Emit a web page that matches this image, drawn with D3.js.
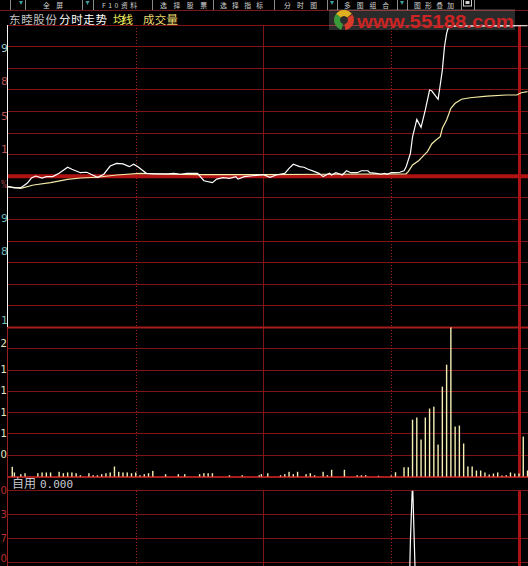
<!DOCTYPE html>
<html>
<head>
<meta charset="utf-8">
<script src="https://cdn.jsdelivr.net/npm/d3@7/dist/d3.min.js"></script>
<style>
body { margin: 0; background: #000; }
svg { display: block; }
</style>
</head>
<body>
<script>
// minute index (0 = 9:30, 240 = 15:00, past 240 = next session) and % change
var priceMin = [0,3,6,9,11,13,16,18,21,24,28,30,34,37,38,42,45,48,51,54,57,59,61,65,68,75,78,81,84,89,
  92,96,98,101,104,107,108,111,115,120,123,126,130,132,134,137,139,141,144,146,148,151,152,154,157,159,161,164,166,169,
  170,173,175,177,178,180,182,184,186,187,189,190,192,194,196,198,199,202,203,204,205,206,207,240,244];
var pricePct = [-0.69,-0.78,-0.76,-0.47,-0.12,0.01,-0.12,-0.03,-0.03,0.19,0.59,0.46,0.23,0.26,0.19,-0.07,0.13,0.67,0.85,0.81,
  0.63,0.79,0.63,0.19,0.15,0.15,0.19,0.13,0.19,0.19,-0.30,-0.43,-0.19,-0.10,-0.14,-0.03,-0.19,-0.03,0.03,0.10,
  -0.07,0.08,0.19,0.52,0.79,0.63,0.59,0.46,0.30,0.19,-0.03,0.19,0.08,0.23,0.08,0.36,0.23,0.23,0.36,0.36,
  0.23,0.19,0.13,0.19,0.13,0.23,0.23,0.26,0.36,0.63,1.51,2.61,3.76,3.23,4.38,5.70,5.65,5.09,6.03,7.02,
  8.56,9.45,9.93,9.95,9.95];

var avgMin = [0,6,12,20,28,34,42,51,62,75,90,106,120,150,187,188,190,193,194,197,199,201,203,204,206,208,210,213,217,225,234,239,241,244];
var avgPct = [-0.69,-0.80,-0.58,-0.43,-0.21,-0.12,-0.07,0.08,0.19,0.13,0.10,0.10,0.10,0.13,0.16,0.30,0.74,1.04,1.20,1.63,
  2.13,2.39,2.61,3.17,3.72,4.49,4.82,5.09,5.19,5.30,5.37,5.37,5.52,5.59];

var volMin = [2,3,6,8,14,16,18,20,24,26,28,30,32,34,38,40,42,44,46,48,50,52,54,56,58,60,62,64,66,68,
  74,80,83,90,92,94,96,104,110,118,119,122,128,130,132,134,136,140,142,144,148,150,152,158,164,166,168,174,180,182,
  186,188,190,192,194,196,198,200,202,204,206,208,210,212,214,216,218,220,222,224,226,228,230,232,234,236,238,240,242,244];
var volVal = [455,190,110,155,155,190,190,190,220,155,190,190,155,60,155,60,60,110,155,190,470,220,190,190,155,190,60,110,155,265,
  110,110,110,110,155,155,155,60,60,60,110,155,60,110,220,110,220,110,155,60,220,60,315,315,60,60,60,35,50,200,
  435,435,2670,2770,1735,2770,3190,3280,1500,4220,5250,7000,2345,2390,1550,470,470,280,280,190,95,140,190,50,60,190,140,140,1875,280];

var indMin = [188,189,190,191,192];
var indVal = [-3,0.9,3.4,0.3,-3];

var priceLabels = ["9","8","5","1","%","9","8","1"];
var priceLabelPct = [8.4,6.2,3.9,1.7,-0.6,-2.8,-5.0,-9.6];
var volLabels = ["2","1","1","1","1","0"];
var volLabelVal = [6200,5000,4000,3000,2000,1000];
var indLabels = ["0","3","7","0"];
var indLabelVal = [3,2,1,0.15];

var toolLabels = ["全屏","F10资料","选择股票","选择指标","分时图","多图组合","图形叠加"];
var titleParts = ["东睦股份","分时走势","均线","成交量"];

var width = 528, height = 566;
var left = 8, right = 528;
var cjk = "'Noto Sans CJK SC', 'Noto Sans', sans-serif";

var svg = d3.select("body").append("svg")
    .attr("width", width)
    .attr("height", height)
    .style("background", "#000");

var x = d3.scaleLinear().domain([0, 240]).range([8, 519]);
var yPrice = d3.scaleLinear().domain([-10, 10]).range([327.4, 25]);
var yVol = d3.scaleLinear().domain([0, 7000]).range([476.5, 327.4]);
var yInd = d3.scaleLinear().domain([0, 3]).range([562.7, 490.7]);

var gridColor = "#801414";

// horizontal grid
var grid = svg.append("g").attr("shape-rendering", "crispEdges");
grid.selectAll(".gp").data(d3.range(15).map(function (i) { return -10 + i * 20 / 14; }))
  .enter().append("line")
    .attr("x1", left).attr("x2", right)
    .attr("y1", function (d) { return yPrice(d); })
    .attr("y2", function (d) { return yPrice(d); })
    .attr("stroke", gridColor);
grid.selectAll(".gv").data(d3.range(1000, 7000, 1000))
  .enter().append("line")
    .attr("x1", left).attr("x2", right)
    .attr("y1", function (d) { return yVol(d); })
    .attr("y2", function (d) { return yVol(d); })
    .attr("stroke", gridColor);
grid.selectAll(".gi").data([0, 1, 2, 3])
  .enter().append("line")
    .attr("x1", left).attr("x2", right)
    .attr("y1", function (d) { return yInd(d); })
    .attr("y2", function (d) { return yInd(d); })
    .attr("stroke", gridColor);

// vertical grid, per panel
var panels = [[25, 327.4], [327.4, 476.5], [490.7, 566]];
panels.forEach(function (p) {
  [60, 180].forEach(function (m) {
    grid.append("line")
      .attr("x1", Math.round(x(m)) + 0.5).attr("x2", Math.round(x(m)) + 0.5)
      .attr("y1", p[0]).attr("y2", p[1])
      .attr("stroke", "#a02020")
      .attr("stroke-dasharray", "1,2");
  });
  grid.append("line")
    .attr("x1", x(120)).attr("x2", x(120))
    .attr("y1", p[0]).attr("y2", p[1])
    .attr("stroke", gridColor);
  grid.append("line")
    .attr("x1", x(240)).attr("x2", x(240))
    .attr("y1", p[0]).attr("y2", p[1])
    .attr("stroke", "#a81414")
    .attr("stroke-width", 3);
});

// previous close line and panel separators
svg.append("line")
    .attr("x1", left).attr("x2", right)
    .attr("y1", yPrice(0)).attr("y2", yPrice(0))
    .attr("stroke", "#b01212").attr("stroke-width", 4);
[yPrice(-10), yVol(0) + 0.5].forEach(function (yy) {
  svg.append("line")
    .attr("x1", left).attr("x2", right)
    .attr("y1", yy).attr("y2", yy)
    .attr("stroke", "#a81c1c").attr("stroke-width", 2);
});

// volume bars
svg.append("g").selectAll("rect")
    .data(volMin.map(function (m, i) { return {m: m, v: volVal[i]}; }))
  .enter().append("rect")
    .attr("x", function (d) { return x(d.m) - 0.7; })
    .attr("width", 1.4)
    .attr("y", function (d) { return yVol(d.v); })
    .attr("height", function (d) { return yVol(0) - yVol(d.v); })
    .attr("fill", "#f4eeb4");

// price and average lines
var line = d3.line()
    .x(function (d) { return x(d[0]); })
    .y(function (d) { return yPrice(d[1]); });

svg.append("path")
    .datum(avgMin.map(function (m, i) { return [m, avgPct[i]]; }))
    .attr("d", line)
    .attr("fill", "none")
    .attr("stroke", "#f2eaa8")
    .attr("stroke-width", 1.2);

svg.append("path")
    .datum(priceMin.map(function (m, i) { return [m, pricePct[i]]; }))
    .attr("d", line)
    .attr("fill", "none")
    .attr("stroke", "#ffffff")
    .attr("stroke-width", 1.2);

// indicator
svg.append("clipPath").attr("id", "indClip")
  .append("rect").attr("x", left).attr("y", 490.7).attr("width", right - left).attr("height", 80);
svg.append("path")
    .datum(indMin.map(function (m, i) { return [m, indVal[i]]; }))
    .attr("clip-path", "url(#indClip)")
    .attr("d", d3.line().x(function (d) { return x(d[0]); }).y(function (d) { return yInd(d[1]); }))
    .attr("fill", "none")
    .attr("stroke", "#ffffff")
    .attr("stroke-width", 1.2);

// left labels (narrow column)
var priceLabelColor = ["#9ccccc","#b85252","#b85252","#b85252","#b85252","#72baba","#72baba","#72baba"];
svg.selectAll(".pl").data(priceLabels).enter().append("text")
    .attr("x", 1).attr("y", function (d, i) { return yPrice(priceLabelPct[i]); })
    .attr("dominant-baseline", "middle")
    .attr("font-family", "'DejaVu Sans', sans-serif").attr("font-size", 11)
    .attr("textLength", function (d) { return d === "%" ? 6 : null; })
    .attr("lengthAdjust", "spacingAndGlyphs")
    .attr("fill", function (d, i) { return priceLabelColor[i]; })
    .text(function (d) { return d; });
svg.selectAll(".vl").data(volLabels).enter().append("text")
    .attr("x", 0.5).attr("y", function (d, i) { return yVol(volLabelVal[i]); })
    .attr("dominant-baseline", "middle")
    .attr("font-family", "'DejaVu Sans', sans-serif").attr("font-size", 10)
    .attr("fill", "#ecebc0")
    .text(function (d) { return d; });
svg.selectAll(".il").data(indLabels).enter().append("text")
    .attr("x", 0.5).attr("y", function (d, i) { return yInd(indLabelVal[i]); })
    .attr("dominant-baseline", "middle")
    .attr("font-family", "'DejaVu Sans', sans-serif").attr("font-size", 10)
    .attr("fill", "#b83030")
    .text(function (d) { return d; });

// left borders
svg.append("line").attr("x1", 7.5).attr("x2", 7.5).attr("y1", 25).attr("y2", 327.4)
    .attr("stroke", "#f4f4f4").attr("shape-rendering", "crispEdges");
svg.append("line").attr("x1", 7.5).attr("x2", 7.5).attr("y1", 327.4).attr("y2", 566)
    .attr("stroke", "#9a2020").attr("shape-rendering", "crispEdges");

// indicator caption
svg.append("text").attr("x", 12).attr("y", 488)
    .attr("font-family", cjk).attr("font-size", 12).attr("fill", "#c8c8d0")
    .text("自用");
svg.append("text").attr("x", 40).attr("y", 488)
    .attr("font-family", "'DejaVu Sans Mono', monospace").attr("font-size", 11).attr("fill", "#c8c8d0")
    .text("0.000");

// title row
var titleX = [9, 59, 113, 143];
var titleW = [48, 48, 20, 35];
var titleColor = ["#c4c4c4", "#ffffff", "#f2f060", "#ecd870"];
svg.selectAll(".tt").data(titleParts).enter().append("text")
    .attr("x", function (d, i) { return titleX[i]; })
    .attr("y", 23.5)
    .attr("font-family", cjk).attr("font-size", 11.5)
    .attr("textLength", function (d, i) { return titleW[i]; })
    .attr("lengthAdjust", "spacing")
    .attr("fill", function (d, i) { return titleColor[i]; })
    .text(function (d) { return d; });

// toolbar
var tb = svg.append("g");
tb.append("line").attr("x1", 0).attr("x2", width).attr("y1", 10.5).attr("y2", 10.5)
    .attr("stroke", "#7c1818");
var toolX = [43, 102, 160, 220, 284, 344, 414];
var toolW = [20, 35, 47, 43, 33, 45, 40];
tb.selectAll(".tl").data(toolLabels).enter().append("text")
    .attr("x", function (d, i) { return toolX[i]; })
    .attr("y", 8)
    .attr("font-family", cjk).attr("font-size", 6.8)
    .attr("textLength", function (d, i) { return toolW[i]; })
    .attr("lengthAdjust", "spacing")
    .attr("fill", "#d4d4d4")
    .text(function (d) { return d; });
[10, 25, 82, 93, 152, 213, 274, 327, 337, 397, 407, 461, 474].forEach(function (sx) {
  tb.append("line").attr("x1", sx + 0.5).attr("x2", sx + 0.5).attr("y1", 0).attr("y2", 10)
      .attr("stroke", "#8a8a8a");
});
[21, 87.5, 332, 402].forEach(function (ax) {
  tb.append("path")
      .attr("d", "M" + (ax - 2) + ",1L" + (ax + 2) + ",1L" + ax + ",5Z")
      .attr("fill", "#3aa0a0");
});
tb.append("rect").attr("x", 463.5).attr("y", -2).attr("width", 8).attr("height", 8)
    .attr("fill", "none").attr("stroke", "#d0d0d0");
tb.append("rect").attr("x", 465.5).attr("y", 1).attr("width", 4).attr("height", 3)
    .attr("fill", "#d0d0d0");

// watermark
var wm = svg.append("g");
wm.append("rect").attr("x", 329).attr("y", 9).attr("width", 186).attr("height", 21)
    .attr("fill", "#ffffff").attr("fill-opacity", 0.17);
var logoArc = d3.arc().innerRadius(4).outerRadius(10);
[["#3a9a3a", 3.4, 5.4], ["#e0b020", -0.9, 0.9], ["#d83a2a", 1.0, 3.0]].forEach(function (a) {
  wm.append("path")
      .attr("transform", "translate(344,20)")
      .attr("d", logoArc({startAngle: a[1], endAngle: a[2]}))
      .attr("fill", a[0]);
});
wm.append("text").attr("x", 357).attr("y", 28)
    .attr("font-family", "'Liberation Sans', Arial, sans-serif")
    .attr("font-weight", "bold").attr("font-size", 19)
    .attr("textLength", 157).attr("lengthAdjust", "spacingAndGlyphs")
    .attr("fill", "#cc2424")
    .text("www.55188.com");
</script>
</body>
</html>
